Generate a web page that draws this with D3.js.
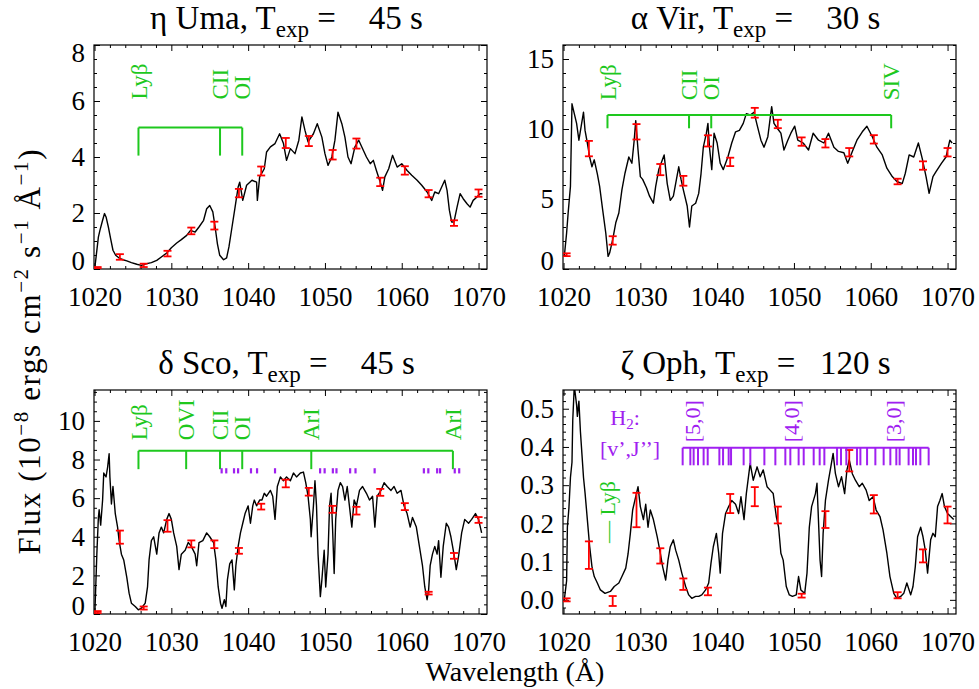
<!DOCTYPE html>
<html><head><meta charset="utf-8">
<script src="https://cdn.jsdelivr.net/npm/d3@7"></script>
<style>
body{margin:0;background:#fff}
svg, svg text, svg tspan{font-family:"Liberation Serif","Times New Roman",Times,serif}
svg text{fill:#000}
</style>
</head><body>
<svg id="c" width="979" height="689" font-family="Liberation Serif"></svg>
<script>
// ---------- data ----------
const xTicks = [1020,1030,1040,1050,1060,1070];
const errWave = [1020.4,1023.3,1026.4,1029.5,1032.6,1035.6,1038.8,1041.7,1044.9,1047.9,1051.0,1054.1,1057.2,1060.4,1063.5,1066.8,1070.0];

// eta Uma
const umaWave = [1020.05,1020.5,1020.7,1021.05,1021.3,1021.5,1021.8,1022.1,1022.4,1022.75,
1023.2,1023.7,1024.2,1024.8,1025.5,1026.1,1026.8,1027.4,1028.1,1028.7,
1029.4,1030.0,1030.7,1031.3,1032.0,1032.5,1033.1,1033.6,1034.2,1034.6,
1035.0,1035.4,1035.7,1036.0,1036.3,1036.8,1037.2,1037.5,1037.9,1038.3,
1038.7,1038.9,1039.3,1039.8,1040.5,1041.1,1041.2,1041.5,1042.1,1042.4,1042.9,
1043.5,1044.1,1044.6,1045.0,1045.5,1046.1,1046.6,1047.0,1047.4,1047.8,
1048.5,1049.0,1049.6,1050.0,1050.4,1050.9,1051.3,1051.7,1052.2,1052.6,
1053.0,1053.4,1053.9,1054.4,1054.8,1055.4,1055.9,1056.3,1056.7,1057.2,
1057.5,1057.8,1058.3,1058.8,1059.4,1060.0,1060.7,1061.3,1062.0,1062.6,
1063.3,1063.9,1064.3,1064.8,1065.2,1065.6,1065.9,1066.2,1066.5,1066.8,
1067.2,1067.6,1068.0,1068.5,1068.9,1069.3,1069.8,1070.2,1070.5];
const umaFlux = [0.07,1.14,1.38,1.74,1.98,1.86,1.5,1.08,0.67,0.49,
0.39,0.33,0.29,0.23,0.17,0.13,0.19,0.23,0.31,0.43,
0.57,0.76,0.93,1.05,1.2,1.38,1.32,1.5,1.74,2.15,
2.27,2.04,1.5,0.9,0.49,0.33,0.4,0.79,1.5,2.21,
2.93,3.1,2.45,2.99,3.17,3.1,2.45,3.29,3.58,4.18,4.36,
4.48,4.83,4.48,3.88,4.3,4.12,4.6,5.43,4.95,4.54,
4.83,5.19,4.71,4.12,3.7,4.0,4.6,5.6,5.19,4.71,
4.0,3.76,4.36,4.6,4.36,4.0,3.76,3.88,3.52,3.1,
2.81,3.29,3.58,4.06,3.64,3.76,3.52,3.35,3.17,2.99,
2.75,2.45,2.75,2.69,2.93,3.17,2.81,2.1,1.68,1.68,
2.21,2.69,2.51,2.33,2.21,2.45,2.57,2.69,2.69];
const umaErrVal = [0.04,0.43,0.13,0.55,1.36,1.55,2.71,3.5,4.5,4.57,4.08,4.48,3.11,3.52,2.69,1.64,2.71];
const umaErrSig = [0.03,0.1,0.06,0.1,0.12,0.14,0.15,0.16,0.18,0.18,0.17,0.18,0.15,0.15,0.13,0.1,0.13];

// alpha Vir
const virWave = [1020.1,1020.4,1020.6,1020.9,1021.1,1021.4,1021.7,1022.0,1022.3,1022.6,
1022.8,1023.1,1023.4,1023.7,1024.0,1024.4,1024.7,1025.1,1025.5,1025.8,
1026.0,1026.4,1026.8,1027.2,1027.6,1028.0,1028.5,1028.9,1029.2,1029.4,
1029.7,1030.0,1030.3,1030.8,1031.2,1031.7,1032.0,1032.4,1032.8,1033.1,
1033.5,1033.9,1034.3,1034.7,1035.0,1035.3,1035.6,1036.1,1036.4,1036.7,
1037.2,1037.6,1037.9,1038.2,1038.6,1038.8,1039.0,1039.3,1039.6,1040.0,
1040.4,1040.8,1041.4,1041.9,1042.4,1042.9,1043.4,1043.8,1044.3,1044.8,
1045.2,1045.7,1046.1,1046.6,1047.1,1047.4,1047.9,1048.3,1048.7,1049.2,
1049.6,1050.1,1050.5,1051.2,1051.9,1052.5,1053.2,1053.9,1054.5,1055.2,
1055.8,1056.5,1057.0,1057.6,1058.2,1058.9,1059.5,1060.2,1060.8,1061.5,
1062.1,1062.8,1063.4,1064.1,1064.5,1065.0,1065.6,1066.2,1066.7,1067.2,
1067.6,1068.1,1068.5,1069.2,1069.8,1070.3,1070.6];
const virFlux = [0.9,2.57,4.0,5.9,11.8,11.1,10.4,9.2,10.2,11.2,
9.9,9.0,8.0,7.3,7.8,6.8,5.9,4.2,2.57,0.9,
1.14,2.1,3.3,4.0,5.65,6.84,8.0,7.55,9.2,10.6,
8.5,6.6,6.4,5.8,5.2,4.7,5.9,7.1,7.7,8.15,
6.1,4.9,5.2,6.4,7.3,6.4,5.65,4.5,3.0,4.5,
4.7,5.4,6.8,8.7,9.7,10.4,8.7,7.1,9.7,9.0,
7.55,7.1,8.0,9.0,9.8,9.9,10.4,11.1,11.0,11.2,
10.3,9.2,8.7,9.45,11.6,10.4,10.0,9.7,8.5,9.2,
9.7,10.2,9.2,9.0,8.5,9.7,9.2,9.0,9.7,8.7,
8.4,8.3,7.55,8.4,9.2,9.8,10.2,9.45,8.7,8.15,
7.2,6.6,6.25,6.1,6.84,8.15,8.0,9.0,7.9,6.6,
5.4,6.6,6.96,7.55,8.0,9.2,9.0];
const virErrVal = [1.02,8.6,2.04,9.8,7.1,6.3,9.15,7.65,11.16,10.36,9.1,8.98,8.34,9.26,6.25,7.39,8.34];
const virErrSig = [0.1,0.55,0.3,0.55,0.4,0.35,0.4,0.3,0.35,0.3,0.3,0.3,0.3,0.3,0.2,0.3,0.3];

// delta Sco
const scoWave = [1020.05,1020.3,1020.5,1020.6,1020.8,1021.05,1021.2,1021.5,1021.7,1021.9,
1022.0,1022.2,1022.4,1022.7,1023.0,1023.2,1023.5,1023.8,1024.2,1024.5,
1024.8,1025.3,1025.7,1026.1,1026.6,1026.9,1027.1,1027.4,1027.7,1028.1,
1028.4,1028.7,1029.0,1029.4,1029.7,1030.0,1030.3,1030.7,1031.0,1031.3,
1031.8,1032.2,1032.6,1033.1,1033.3,1033.6,1034.1,1034.6,1035.0,1035.5,
1035.8,1036.1,1036.4,1036.6,1036.9,1037.1,1037.3,1037.6,1037.9,1038.2,
1038.4,1038.7,1039.0,1039.3,1039.6,1040.0,1040.3,1040.6,1040.8,1041.1,
1041.5,1041.8,1042.1,1042.4,1042.9,1043.2,1043.5,1043.8,1044.2,1044.6,
1045.0,1045.5,1045.9,1046.3,1046.8,1047.2,1047.5,1047.8,1048.1,1048.2,
1048.5,1048.7,1048.9,1049.1,1049.4,1049.6,1049.9,1050.1,1050.4,1050.6,
1050.8,1051.0,1051.2,1051.4,1051.7,1052.0,1052.3,1052.6,1052.9,1053.3,
1053.5,1053.8,1054.1,1054.5,1054.9,1055.4,1055.8,1056.2,1056.5,1056.8,
1057.3,1057.7,1058.1,1058.6,1059.0,1059.4,1059.9,1060.3,1060.7,1061.1,
1061.4,1061.9,1062.3,1062.7,1063.0,1063.3,1063.5,1063.7,1064.0,1064.3,
1064.6,1064.8,1065.1,1065.4,1065.8,1066.1,1066.4,1066.8,1067.1,1067.4,
1067.8,1068.2,1068.7,1069.1,1069.6,1070.0,1070.4];
const scoFlux = [0.14,3.1,5.0,5.4,4.6,5.9,7.3,7.1,7.6,8.3,
7.1,5.7,6.6,5.2,4.5,3.8,3.1,2.8,1.9,1.08,
0.56,0.39,0.22,0.3,0.56,1.4,2.8,3.8,4.0,3.1,
4.2,4.5,4.2,4.9,5.2,4.9,4.2,3.5,2.3,3.1,
3.3,3.7,3.5,3.1,2.5,3.7,3.8,4.2,4.0,3.7,
2.8,1.4,0.56,0.3,0.74,0.39,1.77,2.6,2.8,1.25,
2.5,3.5,4.2,4.7,5.2,5.6,4.7,5.6,5.9,5.6,
5.9,5.9,6.25,6.1,6.4,6.1,4.9,6.6,7.1,6.9,
7.1,6.9,7.3,7.1,7.3,7.35,6.8,6.1,4.9,4.0,
5.6,6.9,5.6,3.1,0.9,1.77,3.3,1.4,3.1,5.6,
6.25,4.35,2.1,4.9,6.4,6.8,6.6,5.9,6.6,5.2,
4.5,5.9,5.6,6.4,6.6,6.25,5.9,6.1,4.5,6.1,
6.4,6.8,6.6,6.4,6.6,6.25,6.4,5.6,5.2,4.5,
5.0,4.5,3.5,2.5,1.4,0.74,1.25,2.5,3.1,3.5,
3.1,3.8,1.9,3.5,4.7,4.5,4.0,3.1,2.3,3.0,
4.2,4.9,4.7,4.9,5.2,4.9,4.2];
const scoErrVal = [0.1,3.98,0.31,4.56,3.63,3.61,3.27,5.56,6.76,6.33,5.42,5.35,6.3,5.56,1.08,3.01,4.87];
const scoErrSig = [0.05,0.34,0.08,0.3,0.18,0.2,0.15,0.15,0.2,0.2,0.18,0.2,0.18,0.18,0.07,0.15,0.15];

// zeta Oph
const ophWave = [1020.1,1020.4,1020.5,1020.7,1020.9,1021.1,1021.2,1021.4,1021.7,1021.8,
1022.0,1022.2,1022.4,1022.6,1022.8,1023.1,1023.4,1023.7,1024.0,1024.4,
1024.8,1025.4,1026.1,1026.6,1027.2,1027.6,1028.1,1028.4,1028.7,1029.0,
1029.4,1029.7,1030.0,1030.4,1030.7,1031.0,1031.3,1031.7,1032.2,1032.6,
1032.9,1033.3,1033.6,1033.9,1034.3,1034.6,1035.0,1035.4,1035.9,1036.3,
1036.7,1037.2,1037.6,1038.0,1038.5,1038.9,1039.2,1039.5,1039.9,1040.2,
1040.4,1040.7,1041.1,1041.5,1041.9,1042.4,1042.8,1043.1,1043.5,1043.8,
1044.3,1044.7,1045.2,1045.6,1046.0,1046.5,1046.9,1047.3,1047.7,1048.0,
1048.3,1048.6,1049.0,1049.4,1049.8,1050.3,1050.6,1050.9,1051.4,1051.7,
1052.0,1052.3,1052.8,1053.0,1053.4,1053.6,1053.8,1054.1,1054.5,1054.8,
1055.1,1055.4,1055.8,1056.2,1056.6,1056.9,1057.2,1057.6,1058.0,1058.5,
1058.9,1059.4,1059.8,1060.3,1060.7,1061.2,1061.6,1062.1,1062.5,1063.0,
1063.4,1063.9,1064.3,1064.7,1065.2,1065.5,1065.8,1066.1,1066.5,1066.8,
1067.1,1067.4,1067.8,1068.1,1068.4,1068.7,1069.0,1069.3,1069.6,1070.0,
1070.4,1070.8];
const ophFlux = [0.0,0.05,0.19,0.24,0.32,0.36,0.47,0.56,0.51,0.48,
0.52,0.44,0.38,0.32,0.28,0.21,0.14,0.087,0.061,0.044,
0.026,0.017,0.022,0.035,0.044,0.061,0.083,0.12,0.174,0.235,
0.27,0.296,0.244,0.21,0.25,0.19,0.235,0.21,0.165,0.122,
0.087,0.052,0.104,0.139,0.157,0.13,0.104,0.07,0.035,0.013,
0.004,0.009,0.009,0.013,0.026,0.044,0.096,0.139,0.174,0.122,
0.07,0.174,0.226,0.244,0.26,0.25,0.226,0.27,0.21,0.278,
0.357,0.313,0.348,0.322,0.34,0.296,0.287,0.278,0.218,0.19,
0.122,0.104,0.035,0.013,0.009,0.013,0.061,0.026,0.017,0.07,
0.19,0.244,0.278,0.305,0.104,0.061,0.174,0.26,0.313,0.348,
0.383,0.33,0.296,0.322,0.278,0.34,0.366,0.33,0.313,0.296,
0.305,0.287,0.26,0.27,0.235,0.218,0.183,0.122,0.061,0.017,
0.004,0.009,0.017,0.044,0.013,0.035,0.087,0.165,0.19,0.165,
0.13,0.07,0.157,0.174,0.165,0.244,0.26,0.278,0.244,0.226,
0.218,0.21];
const ophErrVal = [0.0,0.117,-0.003,0.235,0.115,0.041,0.022,0.252,0.27,0.222,0.011,0.21,0.364,0.25,0.012,0.115,0.222];
const ophErrSig = [0.004,0.036,0.013,0.045,0.02,0.015,0.01,0.025,0.025,0.022,0.005,0.022,0.028,0.024,0.008,0.017,0.022];

// line identifications
const umaLineWave = [1025.72,1036.34,1039.23];
const umaLineName = ["Lyβ","CII","OI"];
const virLineWave = [1025.72,1036.34,1039.23,1062.66];
const virLineName = ["Lyβ","CII","OI","SIV"];
const scoLineWave = [1025.72,1031.93,1036.34,1039.23,1048.22,1066.66];
const scoLineName = ["Lyβ","OVI","CII","OI","ArI","ArI"];
const scoH2Wave = [1036.55,1037.15,1038.16,1038.69,1040.37,1041.16,1043.50,1049.37,1049.96,1051.03,1051.50,1053.28,1053.98,1056.47,1062.88,1063.46,1064.61,1064.99,1066.90,1067.48];
const ophH2Wave = [1035.51,1036.51,1036.94,1037.51,1038.24,1038.77,1040.29,1040.77,1041.5,1041.81,1043.45,1044.32,1046.15,1047.58,1048.88,1049.53,1050.61,1051.27,1052.57,1053.35,1053.96,1055.61,1056.13,1056.82,1058.21,1058.65,1059.52,1060.6,1061.68,1062.55,1063.33,1063.76,1064.93,1065.5,1065.89,1066.46,1067.54];
const ophBandWave = [1036.8,1049.6,1063.0];
const ophBandName = ["[5,0]","[4,0]","[3,0]"];

// ---------- drawing ----------
const SERIF = "'Liberation Serif','Times New Roman',Times,serif";
const GREEN = "#1ec81e", PURPLE = "#a020f0", RED = "#ff0000";
const svg = d3.select("#c");
const xDomain = [1019.93, 1071.1];

const panels = [
  {id:1, name:"η Uma", texp:"  45", x0:94, x1:487, y0:45, y1:269, yDomain:[0,8], yMajor:[0,2,4,6,8], yMinorStep:0.5, fmt:d3.format("d"),
   wave:umaWave, flux:umaFlux, ev:umaErrVal, es:umaErrSig, lw:umaLineWave, ln:umaLineName, bTop:5.05, bBot:4.05, lBase:6.05},
  {id:2, name:"α Vir", texp:"  30", x0:563, x1:956, y0:45, y1:269, yDomain:[0,16], yMajor:[0,5,10,15], yMinorStep:1, fmt:d3.format("d"),
   wave:virWave, flux:virFlux, ev:virErrVal, es:virErrSig, lw:virLineWave, ln:virLineName, bTop:11, bBot:10.05, lBase:12.05},
  {id:3, name:"δ Sco", texp:"  45", x0:94, x1:487, y0:390, y1:614, yDomain:[0,11.6], yMajor:[0,2,4,6,8,10], yMinorStep:0.5, fmt:d3.format("d"),
   wave:scoWave, flux:scoFlux, ev:scoErrVal, es:scoErrSig, lw:scoLineWave, ln:scoLineName, bTop:8.45, bBot:7.5, lBase:9.0},
  {id:4, name:"ζ Oph", texp:" 120", x0:563, x1:956, y0:390, y1:614, yDomain:[-0.037,0.549], yMajor:[0,0.1,0.2,0.3,0.4,0.5], yMinorStep:0.02, fmt:d3.format(".1f"),
   wave:ophWave, flux:ophFlux, ev:ophErrVal, es:ophErrSig}
];

function styleAxis(sel, fs){
  sel.select(".domain").remove();
  sel.attr("font-family", SERIF).attr("font-size", null);
  sel.selectAll(".tick line").attr("stroke","#000").attr("stroke-width",1);
  sel.selectAll(".tick text").attr("font-size", fs).attr("fill","#000").attr("font-family", SERIF);
}

panels.forEach(p => {
  const x = d3.scaleLinear().domain(xDomain).range([p.x0, p.x1]);
  const y = d3.scaleLinear().domain(p.yDomain).range([p.y1, p.y0]);
  const g = svg.append("g").attr("font-family", SERIF);
  const cid = "clip" + p.id;
  svg.append("clipPath").attr("id", cid).append("rect")
    .attr("x", p.x0).attr("y", p.y0).attr("width", p.x1 - p.x0).attr("height", p.y1 - p.y0);

  const xMinor = d3.range(1020, 1072, 2).filter(v => xTicks.indexOf(v) < 0);
  const yMinor = d3.range(Math.ceil(p.yDomain[0]/p.yMinorStep)*p.yMinorStep, p.yDomain[1]+1e-9, p.yMinorStep)
      .map(v => +v.toFixed(4)).filter(v => !p.yMajor.some(m => Math.abs(m - v) < 1e-6));

  g.append("g").attr("transform", `translate(0,${p.y1})`)
    .call(d3.axisBottom(x).tickValues(xTicks).tickSize(-6).tickPadding(18).tickFormat(d3.format("d")))
    .call(s => styleAxis(s, 27));
  g.append("g").attr("transform", `translate(0,${p.y1})`)
    .call(d3.axisBottom(x).tickValues(xMinor).tickSize(-3).tickFormat(""))
    .call(s => styleAxis(s, 27));
  g.append("g").attr("transform", `translate(0,${p.y0})`)
    .call(d3.axisTop(x).tickValues(xTicks).tickSize(-6).tickFormat(""))
    .call(s => styleAxis(s, 27));
  g.append("g").attr("transform", `translate(0,${p.y0})`)
    .call(d3.axisTop(x).tickValues(xMinor).tickSize(-3).tickFormat(""))
    .call(s => styleAxis(s, 27));
  const la = g.append("g").attr("transform", `translate(${p.x0},0)`)
    .call(d3.axisLeft(y).tickValues(p.yMajor).tickSize(-6).tickPadding(9).tickFormat(p.fmt))
    .call(s => styleAxis(s, 27));
  la.selectAll(".tick text").attr("dy", d => {
      if (Math.abs(d - p.yDomain[0]) < 1e-9) return "0em";
      if (Math.abs(d - p.yDomain[1]) < 1e-9) return "0.62em";
      return "0.32em"; });
  g.append("g").attr("transform", `translate(${p.x0},0)`)
    .call(d3.axisLeft(y).tickValues(yMinor).tickSize(-3).tickFormat(""))
    .call(s => styleAxis(s, 27));
  g.append("g").attr("transform", `translate(${p.x1},0)`)
    .call(d3.axisRight(y).tickValues(p.yMajor).tickSize(-6).tickFormat(""))
    .call(s => styleAxis(s, 27));
  g.append("g").attr("transform", `translate(${p.x1},0)`)
    .call(d3.axisRight(y).tickValues(yMinor).tickSize(-3).tickFormat(""))
    .call(s => styleAxis(s, 27));

  g.append("rect").attr("x", p.x0).attr("y", p.y0).attr("width", p.x1 - p.x0).attr("height", p.y1 - p.y0)
    .attr("fill", "none").attr("stroke", "#000").attr("stroke-width", 1.2);

  const t = g.append("text").attr("x", (p.x0 + p.x1)/2 - 4).attr("y", p.y0 - 16)
    .attr("text-anchor", "middle").attr("font-size", 33).attr("font-family", SERIF).style("white-space", "pre");
  t.append("tspan").text(p.name + ", T");
  t.append("tspan").attr("font-size", 23).attr("dy", 8).text("exp");
  t.append("tspan").attr("font-size", 33).attr("dy", -8).text(" =  " + p.texp + " s");

  const pg = g.append("g").attr("clip-path", `url(#${cid})`);
  pg.append("path").datum(d3.zip(p.wave, p.flux))
    .attr("fill", "none").attr("stroke", "#000").attr("stroke-width", 1.4).attr("stroke-linejoin", "round")
    .attr("d", d3.line().x(d => x(d[0])).y(d => y(d[1])));

  const eb = pg.append("g").attr("stroke", RED).attr("stroke-width", 1.8);
  errWave.forEach((w, i) => {
    const cx = x(w), yt = y(p.ev[i] + p.es[i]), yb = y(p.ev[i] - p.es[i]);
    eb.append("line").attr("x1", cx).attr("x2", cx).attr("y1", yt).attr("y2", yb);
    eb.append("line").attr("x1", cx - 4).attr("x2", cx + 4).attr("y1", yt).attr("y2", yt);
    eb.append("line").attr("x1", cx - 4).attr("x2", cx + 4).attr("y1", yb).attr("y2", yb);
  });

  if (p.lw) {
    const gg = g.append("g");
    gg.append("line").attr("x1", x(p.lw[0])).attr("x2", x(p.lw[p.lw.length-1]))
      .attr("y1", y(p.bTop)).attr("y2", y(p.bTop)).attr("stroke", GREEN).attr("stroke-width", 2);
    p.lw.forEach((w, i) => {
      gg.append("line").attr("x1", x(w)).attr("x2", x(w)).attr("y1", y(p.bTop)).attr("y2", y(p.bBot))
        .attr("stroke", GREEN).attr("stroke-width", 2);
      gg.append("text").attr("transform", `translate(${x(w)},${y(p.lBase)}) rotate(-90)`)
        .attr("dy", "0.35em").attr("font-size", 23).attr("font-family", SERIF).style("fill", GREEN).text(p.ln[i]);
    });
  }
  if (p.id === 3) {
    scoH2Wave.forEach(w => {
      g.append("line").attr("x1", x(w)).attr("x2", x(w)).attr("y1", y(7.55)).attr("y2", y(7.28))
        .attr("stroke", PURPLE).attr("stroke-width", 2.2);
    });
  }
  if (p.id === 4) {
    const hg = g.append("g").attr("stroke", PURPLE).attr("stroke-width", 2);
    hg.append("line").attr("x1", x(ophH2Wave[0])).attr("x2", x(ophH2Wave[ophH2Wave.length-1]))
      .attr("y1", y(0.398)).attr("y2", y(0.398));
    ophH2Wave.forEach(w => {
      hg.append("line").attr("x1", x(w)).attr("x2", x(w)).attr("y1", y(0.398)).attr("y2", y(0.352));
    });
    ophBandWave.forEach((w, i) => {
      g.append("text").attr("transform", `translate(${x(w)},${y(0.412)}) rotate(-90)`)
        .attr("dy", "0.35em").attr("font-size", 22).attr("font-family", SERIF).style("fill", PURPLE).text(ophBandName[i]);
    });
    const h = g.append("text").attr("x", 625).attr("y", 425).attr("text-anchor", "middle")
      .attr("font-size", 22).attr("font-family", SERIF).style("fill", PURPLE);
    h.append("tspan").text("H");
    h.append("tspan").attr("font-size", 15).attr("dy", 4).text("2");
    h.append("tspan").attr("dy", -4).text(":");
    g.append("text").attr("x", 630).attr("y", 456).attr("text-anchor", "middle")
      .attr("font-size", 22).attr("font-family", SERIF).style("fill", PURPLE).text("[v’,J’’]");
    g.append("text").attr("transform", `translate(${x(1025.72)},${y(0.149)}) rotate(-90)`)
      .attr("dy", "0.35em").attr("font-size", 22).attr("font-family", SERIF).style("fill", GREEN).style("white-space", "pre").text("— Lyβ");
  }
});

svg.append("text").attr("x", 515).attr("y", 681).attr("text-anchor", "middle").attr("font-size", 28)
  .attr("font-family", SERIF).text("Wavelength (Å)");
const yt = svg.append("text").attr("transform", "translate(40,352) rotate(-90)").attr("text-anchor", "middle")
  .attr("font-size", 31).attr("font-family", SERIF).style("white-space", "pre")
  .attr("textLength", 405).attr("lengthAdjust", "spacing");
yt.append("tspan").text("Flux (10");
yt.append("tspan").attr("font-size", 21).attr("dy", -12).text("−8");
yt.append("tspan").attr("dy", 12).text(" ergs cm");
yt.append("tspan").attr("font-size", 21).attr("dy", -12).text("−2");
yt.append("tspan").attr("dy", 12).text(" s");
yt.append("tspan").attr("font-size", 21).attr("dy", -12).text("−1");
yt.append("tspan").attr("dy", 12).text(" Å");
yt.append("tspan").attr("font-size", 21).attr("dy", -12).text("−1");
yt.append("tspan").attr("dy", 12).text(")");
</script>
</body></html>
